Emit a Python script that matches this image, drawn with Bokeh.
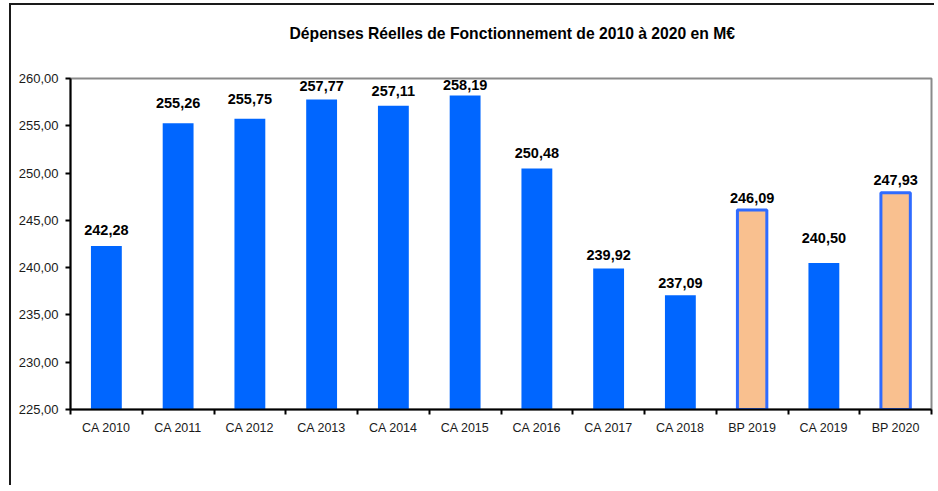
from bokeh.plotting import figure
from bokeh.models import FixedTicker, Range1d, ColumnDataSource, LabelSet, Title
from bokeh.core.properties import value
from bokeh.embed import file_html
from bokeh.resources import INLINE

# ---- data ----
categories = ["CA 2010", "CA 2011", "CA 2012", "CA 2013", "CA 2014", "CA 2015",
              "CA 2016", "CA 2017", "CA 2018", "BP 2019", "CA 2019", "BP 2020"]
values = [242.28, 255.26, 255.75, 257.77, 257.11, 258.19,
          250.48, 239.92, 237.09, 246.09, 240.50, 247.93]
y_ticks = [225, 230, 235, 240, 245, 250, 255, 260]
title_text = "Dépenses Réelles de Fonctionnement de 2010 à 2020 en M€"

# vertical lift of each value label above its bar (px, style only)
label_lift = [16, 20, 20, 14, 15, 11, 16, 13, 12, 12, 25, 13]

FONT = "Liberation Sans"


def fr(v):
    return f"{v:.2f}".replace(".", ",")


n = len(categories)
xs = [i + 0.5 for i in range(n)]
is_bp = [c.startswith("BP") for c in categories]

ca_src = ColumnDataSource(dict(
    x=[x for x, b in zip(xs, is_bp) if not b],
    top=[v for v, b in zip(values, is_bp) if not b]))
bp_src = ColumnDataSource(dict(
    x=[x for x, b in zip(xs, is_bp) if b],
    top=[v for v, b in zip(values, is_bp) if b]))
lab_src = ColumnDataSource(dict(x=xs, y=values, text=[fr(v) for v in values],
                                dy=label_lift))

p = figure(width=925, height=482, output_backend="svg", toolbar_location=None,
           title=None,
           x_range=Range1d(0, n), y_range=Range1d(y_ticks[0], y_ticks[-1]),
           min_border_left=59, min_border_right=5, min_border_top=73,
           min_border_bottom=78)
p.styles = {"border-left": "2px solid #1a1a1a", "border-top": "2px solid #1a1a1a",
            "margin-left": "9px", "margin-top": "3px"}

p.background_fill_color = "white"
p.border_fill_color = "white"
p.xgrid.visible = False
p.ygrid.visible = False
p.outline_line_color = "#8a8a8a"
p.outline_line_width = 2

# spacer between the frame and the title, then the title itself
spacer = Title(text=" ", text_font_size="10px", standoff=24)
p.add_layout(spacer, "above")
main_title = Title(text=title_text, align="left", offset=219,
                   vertical_align="bottom", standoff=0,
                   text_font=FONT, text_font_size="15.7px",
                   text_font_style="bold", text_color="black")
p.add_layout(main_title, "above")

p.vbar(x="x", top="top", bottom=y_ticks[0], width=0.43, source=ca_src,
       fill_color="#0066FF", line_color=None)
p.vbar(x="x", top="top", bottom=y_ticks[0], width=0.41, source=bp_src,
       fill_color="#F9C08F", line_color="#2F6BFF", line_width=3)

labels = LabelSet(x="x", y="y", text="text", source=lab_src, y_offset="dy",
                  text_align="center", text_baseline="middle",
                  text_font=value(FONT), text_font_style="bold",
                  text_font_size="14.5px", text_color="black")
p.add_layout(labels)

xa = p.xaxis[0]
xa.ticker = FixedTicker(ticks=xs, minor_ticks=list(range(n + 1)))
xa.major_label_overrides = {x: c for x, c in zip(xs, categories)}
xa.major_tick_out = 0
xa.major_tick_in = 0
xa.minor_tick_out = 5
xa.minor_tick_in = 0
xa.minor_tick_line_color = "black"
xa.minor_tick_line_width = 2
xa.axis_line_color = "black"
xa.axis_line_width = 2
xa.major_label_standoff = 6
xa.major_label_text_font = FONT
xa.major_label_text_font_size = "12.5px"
xa.major_label_text_color = "#1a1a1a"

ya = p.yaxis[0]
ya.ticker = FixedTicker(ticks=y_ticks, minor_ticks=[])
ya.major_label_overrides = {t: fr(t) for t in y_ticks}
ya.major_tick_out = 5
ya.major_tick_in = 0
ya.major_tick_line_color = "black"
ya.major_tick_line_width = 2
ya.minor_tick_out = 0
ya.minor_tick_in = 0
ya.axis_line_color = "black"
ya.axis_line_width = 2
ya.major_label_standoff = 7
ya.major_label_text_font = FONT
ya.major_label_text_font_size = "13px"
ya.major_label_text_color = "#1a1a1a"

open("out.html", "w").write(file_html(p, INLINE))
